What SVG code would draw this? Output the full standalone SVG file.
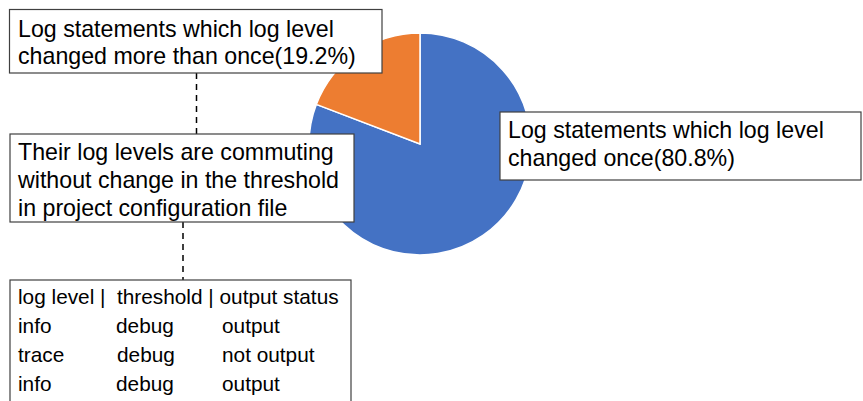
<svg xmlns="http://www.w3.org/2000/svg" width="863" height="401" viewBox="0 0 863 401">
<style>
.box{fill:#fff;stroke:#404040;stroke-width:1.2}
.t{font-family:"Liberation Sans",Arial,sans-serif;font-size:23.2px;fill:#000}
.s{font-family:"Liberation Sans",Arial,sans-serif;font-size:20.8px;fill:#000}
.dash{stroke:#000;stroke-width:1.5;stroke-dasharray:6,5;fill:none}
</style>
<rect width="863" height="401" fill="#fff"/>
<g id="pie">
<path d="M420,144 L420,33 A111,111 0 1 1 316.3,104.4 Z" fill="#4472C4" stroke="#fff" stroke-width="1.5"/>
<path d="M420,144 L316.3,104.4 A111,111 0 0 1 420,33 Z" fill="#ED7D31" stroke="#fff" stroke-width="1.5"/>
</g>
<g id="connectors">
<line class="dash" x1="196.5" y1="73" x2="196.5" y2="134"/>
<line class="dash" x1="183" y1="222" x2="183" y2="280"/>
</g>
<g id="label-more">
<rect class="box" x="9.5" y="9.5" width="372.5" height="63.5"/>
<text class="t" x="18" y="37">Log statements which log level</text>
<text class="t" x="18" y="64">changed more than once(19.2%)</text>
</g>
<g id="label-commuting">
<rect class="box" x="10" y="134" width="344" height="88"/>
<text class="t" x="18" y="160">Their log levels are commuting</text>
<text class="t" x="18" y="188">without change in the threshold</text>
<text class="t" x="18" y="216">in project configuration file</text>
</g>
<g id="label-once">
<rect class="box" x="500" y="112" width="361" height="68"/>
<text class="t" x="508" y="138">Log statements which log level</text>
<text class="t" x="508" y="166">changed once(80.8%)</text>
</g>
<g id="table">
<rect class="box" x="10" y="280" width="341" height="122"/>
<text class="s" x="18" y="304">log level |</text>
<text class="s" x="117" y="304">threshold | output status</text>
<text class="s" x="18" y="333">info</text>
<text class="s" x="116" y="333">debug</text>
<text class="s" x="222" y="333">output</text>
<text class="s" x="18" y="362">trace</text>
<text class="s" x="117" y="362">debug</text>
<text class="s" x="222" y="362">not output</text>
<text class="s" x="18" y="391">info</text>
<text class="s" x="116" y="391">debug</text>
<text class="s" x="222" y="391">output</text>
</g>
</svg>
